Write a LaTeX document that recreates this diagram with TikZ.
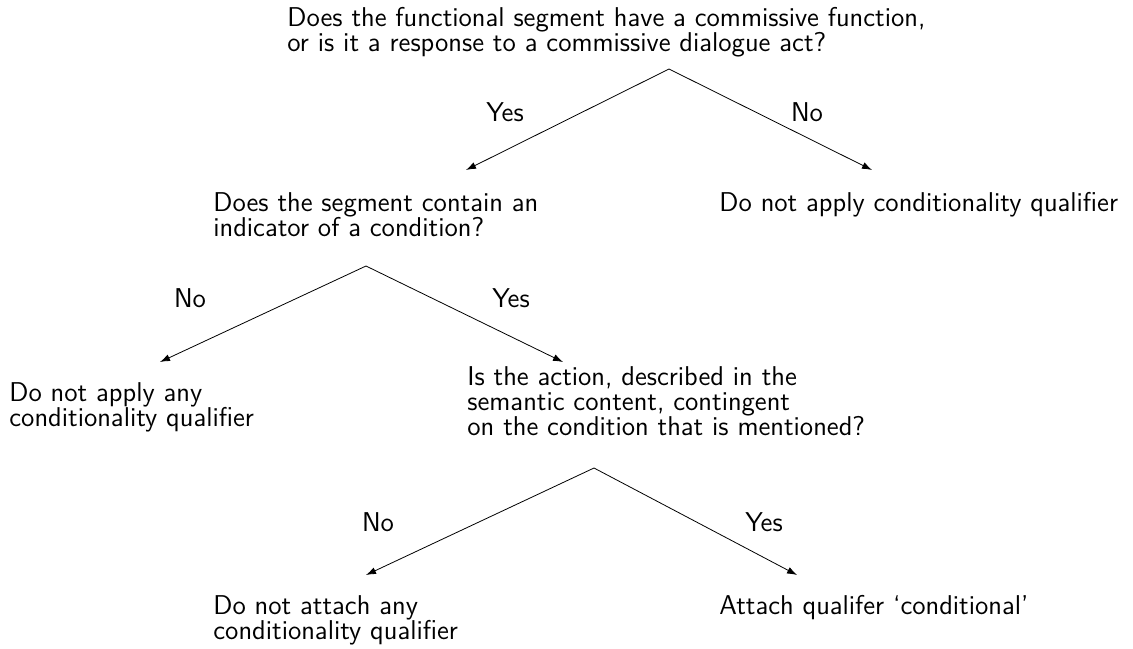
\documentclass[tikz,border=0pt]{standalone}
\usepackage{amsfonts,amsmath}
\usepackage{tikz}
\usetikzlibrary{positioning,arrows.meta}
\newcommand\tightlines{\lineskiplimit=-20pt\relax}
\tikzset{
    question/.style={anchor=north west, inner sep=0pt, align=left,
      font=\sffamily\fontsize{13.6}{12.5}\selectfont\tightlines},
    answer/.style={question},
    choice/.style={inner sep=0pt, font=\sffamily\fontsize{13.6}{12.5}\selectfont},
    branch/.style={thin, -{Latex[length=5pt,width=3.5pt]}}
}

\begin{document}
\begin{tikzpicture}[x=0.5pt, y=-0.5pt]
      \useasboundingbox (0,0) rectangle (1133,648);
      % questions and outcomes
      \node[question] (q1) at (287,7) {Does the functional segment have a commissive function,\\or is it a response to a commissive dialogue act?};
      \node[question] (q2) at (213,192) {Does the segment contain an\\indicator of a condition?};
      \node[answer] (a1) at (719,192) {Do not apply conditionality qualifier};
      \node[answer] (a2) at (9,382) {Do not apply any\\conditionality qualifier};
      \node[question] (q3) at (467,366) {Is the action, described in the\\semantic content, contingent\\on the condition that is mentioned?};
      \node[answer] (a3) at (213,595) {Do not attach any\\conditionality qualifier};
      \node[answer] (a4) at (719,595) {Attach qualifer `conditional'};
      % forks and arrow ends
      \coordinate (f1) at (669,69);
      \coordinate (f1l) at (466,170);
      \coordinate (f1r) at (872,170);
      \coordinate (f2) at (366,266);
      \coordinate (f2l) at (160,362);
      \coordinate (f2r) at (563,362);
      \coordinate (f3) at (594,468);
      \coordinate (f3l) at (366,575);
      \coordinate (f3r) at (797,575);
      \draw[branch] (f1) -- (f1l);
      \draw[branch] (f1) -- (f1r);
      \draw[branch] (f2) -- (f2l);
      \draw[branch] (f2) -- (f2r);
      \draw[branch] (f3) -- (f3l);
      \draw[branch] (f3) -- (f3r);
      % labels
      \node[choice] (y1) at (505,112) {Yes};
      \node[choice] (n1) at (807,112) {No};
      \node[choice] (n2) at (190,298) {No};
      \node[choice] (y2) at (511,298) {Yes};
      \node[choice] (n3) at (378,522) {No};
      \node[choice] (y3) at (764,522) {Yes};
\end{tikzpicture}
\end{document}
